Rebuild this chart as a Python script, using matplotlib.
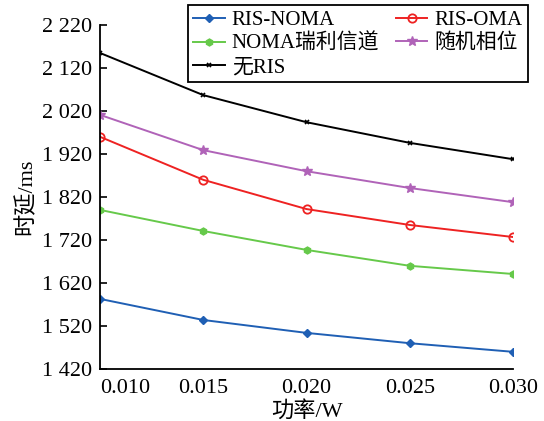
import matplotlib
matplotlib.use('Agg')
import matplotlib.pyplot as plt
from matplotlib.ticker import FuncFormatter

plt.rcParams['font.family'] = ['Liberation Serif', 'Noto Sans CJK SC']
plt.rcParams['font.size'] = 16

power = [0.010, 0.015, 0.020, 0.025, 0.030]
ris_noma = [1583, 1534, 1504, 1480, 1460]
ris_oma = [1960, 1860, 1792, 1755, 1727]
noma_rayleigh = [1790, 1741, 1697, 1660, 1641]
random_phase = [2011, 1929, 1880, 1841, 1808]
no_ris = [2155, 2057, 1994, 1946, 1908]

yticks = [1420, 1520, 1620, 1720, 1820, 1920, 2020, 2120, 2220]

fig = plt.figure(figsize=(5.44, 4.21), dpi=100)
ax = fig.add_axes([0.184, 0.1235, 0.759, 0.817])

h1, = ax.plot(power, ris_noma, color='#1f5fb4', marker='D', markersize=4, lw=1.4, label='RIS-NOMA')
h2, = ax.plot(power, ris_oma, color='#ee2222', marker='o', markersize=6, mfc='none', mew=1.3, lw=1.4, label='RIS-OMA')
h3, = ax.plot(power, noma_rayleigh, color='#66c94a', marker='h', markersize=5, lw=1.4, label='NOMA瑞利信道')
h4, = ax.plot(power, random_phase, color='#b063b8', marker='*', markersize=7, lw=1.4, label='随机相位')
h5, = ax.plot(power, no_ris, color='black', marker='x', markersize=3, mew=1.2, lw=1.4, label='无RIS')

ax.set_xlim(0.010, 0.030)
ax.set_ylim(1420, 2220)
ax.set_xticks(power)
ax.set_xticklabels(['%.3f' % p for p in power])
ax.set_yticks(yticks)
ax.yaxis.set_major_formatter(FuncFormatter(lambda v, _: f'{v:,.0f}'.replace(',', ' ')))
ax.tick_params(axis='y', direction='in', length=5, width=1.2, labelsize=16, pad=6)
ax.tick_params(axis='x', length=0, pad=7, labelsize=16)
ax.get_xticklabels()[0].set_horizontalalignment('left')
ax.get_xticklabels()[0].set_x(0.0098)

for s in ['top', 'right']:
    ax.spines[s].set_visible(False)
for s in ['left', 'bottom']:
    ax.spines[s].set_linewidth(1.3)

ax.set_xlabel('功率/W', fontsize=16, labelpad=2)
ax.set_ylabel('时延/ms', fontsize=16, labelpad=4)

# column-wise fill so rows read: RIS-NOMA | RIS-OMA, NOMA瑞利信道 | 随机相位, 无RIS
handles = [h1, h3, h5, h2, h4]
leg = ax.legend(handles, [h.get_label() for h in handles], ncol=2, loc='upper right',
                bbox_to_anchor=(1.036, 1.058), borderaxespad=0, fontsize=15,
                frameon=True, fancybox=False, framealpha=1, edgecolor='black', handlelength=1.5,
                columnspacing=0.8, handletextpad=0.35, labelspacing=0.18, borderpad=0.25)
leg.get_frame().set_linewidth(1.3)

fig.savefig('out.png', dpi=100)
